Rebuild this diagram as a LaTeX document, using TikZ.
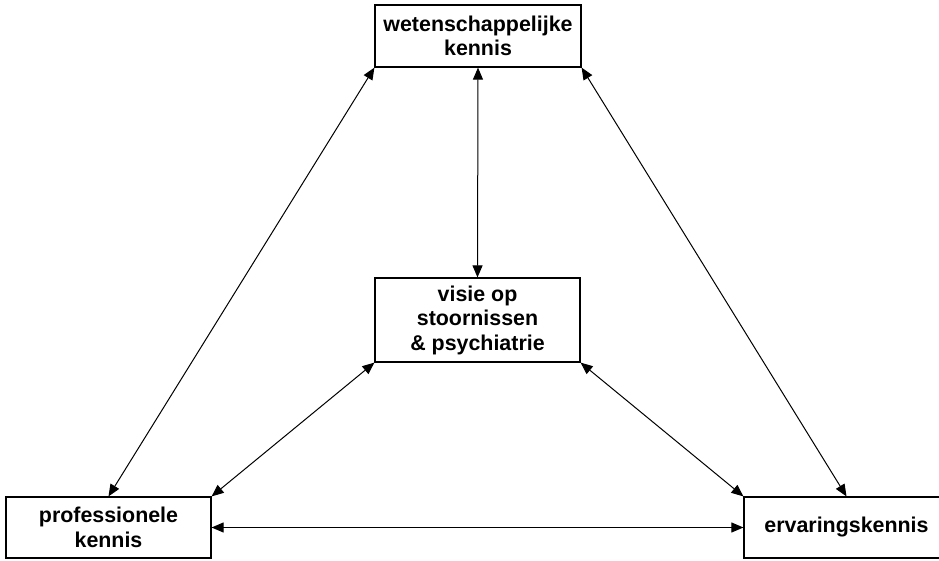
\documentclass[tikz,border=0pt]{standalone}
\usepackage{fontspec}
\setmainfont{Liberation Sans}
\usetikzlibrary{arrows.meta}
\begin{document}
\begin{tikzpicture}[x=1pt,y=-1pt,
  kbox/.style={draw=black, line width=1.2pt, inner sep=0pt, align=center,
    font=\fontsize{21.4}{24.5}\selectfont\bfseries},
  link/.style={line width=1pt, {Triangle[length=12pt,width=10pt]}-{Triangle[length=12pt,width=10pt]}}]
  \useasboundingbox (0,0) rectangle (939,560);
  \node[kbox, minimum width=206pt, minimum height=62pt] (wk) at (478,36) {wetenschappelijke\\kennis};
  \node[kbox, minimum width=205pt, minimum height=84pt] (vis) at (477.5,320) {visie op\\stoornissen\\\& psychiatrie};
  \node[kbox, minimum width=205pt, minimum height=61pt] (pk) at (108.5,527.5) {professionele\\kennis};
  \node[kbox, minimum width=205pt, minimum height=61pt] (ek) at (846.5,527.5) {ervaringskennis};
  \draw[link] (wk.south west) -- (pk.north);
  \draw[link] (wk.south) -- (vis.north);
  \draw[link] (wk.south east) -- (ek.north);
  \draw[link] (vis.south west) -- (pk.north east);
  \draw[link] (vis.south east) -- (ek.north west);
  \draw[link] (pk.east) -- (ek.west);
\end{tikzpicture}
\end{document}
